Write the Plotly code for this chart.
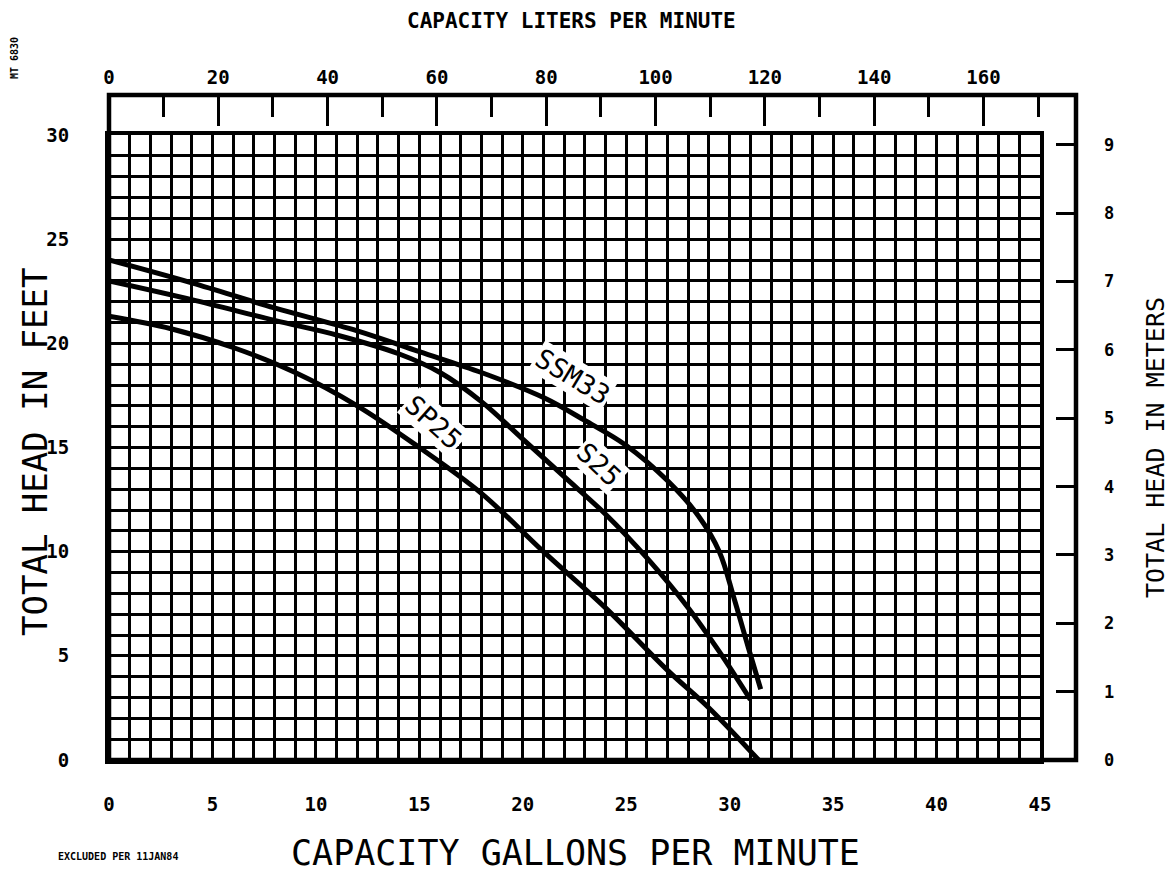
import plotly.graph_objects as go

# ---- data ----
ssm33_gpm = [0, 4, 8, 12, 15, 18, 21, 23, 25, 27, 28.5, 29.5, 30.2, 30.9, 31.5]
ssm33_ft = [24.0, 22.9, 21.7, 20.6, 19.6, 18.6, 17.4, 16.3, 15.1, 13.4, 11.7, 10.0, 7.8, 5.4, 3.4]

s25_gpm = [0, 4, 8, 11, 14, 16, 18, 20, 22, 24, 26, 28, 29.5, 31.0]
s25_ft = [23.0, 22.1, 21.1, 20.4, 19.5, 18.6, 17.2, 15.4, 13.6, 11.8, 9.7, 7.3, 5.2, 2.9]

sp25_gpm = [0, 3, 6, 9, 12, 15, 18, 21, 24, 27, 29, 31.4]
sp25_ft = [21.3, 20.7, 19.8, 18.6, 17.0, 15.0, 12.8, 10.0, 7.3, 4.3, 2.5, 0.0]

gpm_ticks = [0, 5, 10, 15, 20, 25, 30, 35, 40, 45]
ft_ticks = [0, 5, 10, 15, 20, 25, 30]
lpm_ticks = [0, 20, 40, 60, 80, 100, 120, 140, 160]
m_ticks = [0, 1, 2, 3, 4, 5, 6, 7, 8, 9]

GPM_MAX = 45
FT_MAX = 30
LPM_PER_GPM = 3.78541
FT_PER_M = 3.28084

FONT = "DejaVu Sans Mono"

# ---- geometry (page pixels; the page body adds an 8px offset) ----
OFF = 8
W, H = 1175 - OFF, 874 - OFF
L, R, T, B = 109, 1076, 95, 760          # outer frame (page px)
GRID_R, GRID_T = 1040, 135               # grid edges (page px)
pw, ph = R - L, B - T
xdom = (GRID_R - L) / pw
ydom = (B - GRID_T) / ph


def px(xp):
    return (xp - L) / pw


def py(yp):
    return (B - yp) / ph


fig = go.Figure()

for gx, gy, name in [(ssm33_gpm, ssm33_ft, "SSM33"),
                     (s25_gpm, s25_ft, "S25"),
                     (sp25_gpm, sp25_ft, "SP25")]:
    fig.add_trace(go.Scatter(x=gx, y=gy, mode="lines", name=name,
                             line=dict(color="black", width=5, shape="spline", smoothing=1.0),
                             showlegend=False, hoverinfo="skip"))

# helper trace for the secondary axes
fig.add_trace(go.Scatter(x=[None], y=[None], xaxis="x2", yaxis="y2",
                         mode="markers", showlegend=False, hoverinfo="skip"))

tickfont = dict(family=FONT, size=19, color="black", weight="bold")

fig.update_layout(
    width=W, height=H,
    margin=dict(l=L - OFF, r=(1175 - R), t=T - OFF, b=(874 - B)),
    paper_bgcolor="white", plot_bgcolor="white",
    xaxis=dict(domain=[0, xdom], range=[0, GPM_MAX], tickvals=gpm_ticks,
               ticks="", showgrid=True, gridcolor="black", gridwidth=3,
               minor=dict(dtick=1, showgrid=True, gridcolor="black", gridwidth=2.7),
               showline=True, linecolor="black", linewidth=4, mirror=True,
               zeroline=False, tickfont=tickfont, ticklabelstandoff=24,
               anchor="y", fixedrange=True),
    yaxis=dict(domain=[0, ydom], range=[0, FT_MAX], tickvals=ft_ticks,
               ticks="", showgrid=True, gridcolor="black", gridwidth=3,
               minor=dict(dtick=1, showgrid=True, gridcolor="black", gridwidth=2.7),
               showline=True, linecolor="black", linewidth=4, mirror=True,
               zeroline=False, tickfont=tickfont, ticklabelstandoff=32,
               anchor="x", fixedrange=True),
    xaxis2=dict(overlaying="x", anchor="free", position=1, side="top",
                range=[0, GPM_MAX * LPM_PER_GPM], tickvals=lpm_ticks,
                ticks="inside", ticklen=30, tickwidth=3, tickcolor="black",
                minor=dict(dtick=10, ticks="inside", ticklen=21, tickwidth=2.5, tickcolor="black"),
                showgrid=False, zeroline=False, showline=False,
                tickfont=tickfont, ticklabelstandoff=7, fixedrange=True),
    yaxis2=dict(overlaying="y", anchor="free", position=1, side="right",
                range=[0, FT_MAX / FT_PER_M], tickvals=m_ticks,
                ticks="inside", ticklen=20, tickwidth=2.5, tickcolor="black",
                showgrid=False, zeroline=False, showline=False,
                tickfont=dict(family=FONT, size=17, color="black", weight="bold"),
                ticklabelstandoff=27, fixedrange=True),
    shapes=[
        dict(type="rect", xref="paper", yref="paper", x0=0, x1=1, y0=0, y1=1,
             line=dict(color="black", width=4.5)),
    ],
)

ann = [
    dict(text="CAPACITY LITERS PER MINUTE", x=px(571), y=py(21),
         font=dict(family=FONT, size=21, color="black", weight="bold")),
    dict(text="CAPACITY GALLONS PER MINUTE", x=px(575), y=py(853),
         font=dict(family=FONT, size=35, color="black")),
    dict(text="TOTAL HEAD IN FEET", x=px(35), y=py(452), textangle=-90,
         font=dict(family=FONT, size=34, color="black")),
    dict(text="TOTAL HEAD IN METERS", x=px(1156), y=py(448), textangle=-90,
         font=dict(family=FONT, size=25, color="black")),
    dict(text="EXCLUDED PER 11JAN84", x=px(118), y=py(856),
         font=dict(family=FONT, size=10, color="black", weight="bold")),
    dict(text="MT 6830", x=px(14), y=py(58), textangle=-90,
         font=dict(family=FONT, size=10, color="black", weight="bold")),
]
for a in ann:
    a.update(xref="paper", yref="paper", showarrow=False, xanchor="center", yanchor="middle")
    fig.add_annotation(**a)

curve_labels = [
    ("SSM33", 22.4, 18.4, 31),
    ("S25", 23.7, 14.2, 43),
    ("SP25", 15.7, 16.2, 42),
]
for txt, lx, ly, ang in curve_labels:
    fig.add_annotation(text=txt, x=lx, y=ly, xref="x", yref="y", showarrow=False,
                       textangle=ang, bgcolor="white", borderpad=1,
                       font=dict(family=FONT, size=27, color="black"))

fig.write_html("out.html")
